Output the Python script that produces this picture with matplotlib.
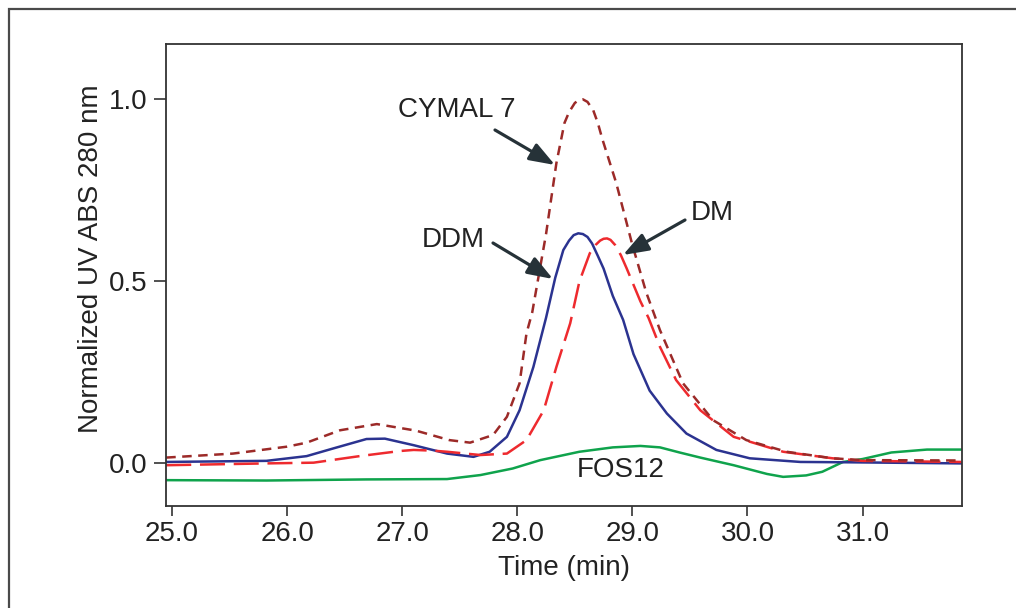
import matplotlib
matplotlib.use("Agg")
import matplotlib.pyplot as plt
from matplotlib.patches import Rectangle

plt.rcParams['font.family'] = ['Liberation Sans', 'DejaVu Sans']

# Elution profiles (time in min, normalized absorbance)
cymal_t = [24.95, 25.53, 26.0, 26.17, 26.46, 26.78, 27.12, 27.41, 27.59, 27.79,
           27.91, 28.02, 28.08, 28.13, 28.25, 28.34, 28.41, 28.45, 28.50, 28.53,
           28.57, 28.61, 28.66, 28.70, 28.74, 28.86, 29.0, 29.12, 29.24, 29.44,
           29.70, 29.99, 30.34, 30.74, 31.0, 31.86]
cymal_y = [0.016, 0.027, 0.046, 0.057, 0.091, 0.108, 0.090, 0.064, 0.057, 0.078,
           0.128, 0.22, 0.357, 0.415, 0.63, 0.825, 0.935, 0.965, 0.99, 0.997,
           1.0, 0.993, 0.97, 0.935, 0.89, 0.77, 0.60, 0.47, 0.366, 0.22,
           0.119, 0.064, 0.032, 0.014, 0.009, 0.008]

ddm_t = [24.95, 25.82, 26.17, 26.40, 26.69, 26.85, 27.10, 27.39, 27.62, 27.76,
         27.91, 28.02, 28.14, 28.25, 28.33, 28.40, 28.45, 28.49, 28.53, 28.57,
         28.61, 28.65, 28.70, 28.75, 28.83, 28.92, 29.01, 29.15, 29.30, 29.47,
         29.73, 30.02, 30.46, 30.89, 31.86]
ddm_y = [0.004, 0.007, 0.020, 0.041, 0.067, 0.068, 0.050, 0.027, 0.018, 0.032,
         0.073, 0.146, 0.265, 0.400, 0.510, 0.586, 0.612, 0.627, 0.632, 0.630,
         0.622, 0.604, 0.570, 0.535, 0.460, 0.394, 0.300, 0.200, 0.137, 0.082,
         0.037, 0.014, 0.004, 0.003, 0.0]

dm_t = [24.95, 25.82, 26.23, 26.63, 26.98, 27.10, 27.27, 27.39, 27.68, 27.91,
        28.08, 28.23, 28.34, 28.46, 28.54, 28.63, 28.68, 28.72, 28.75, 28.78,
        28.81, 28.85, 28.90, 28.95, 29.07, 29.14, 29.24, 29.38, 29.59, 29.88,
        30.31, 30.74, 31.0, 31.86]
dm_y = [-0.005, 0.0, 0.002, 0.020, 0.034, 0.037, 0.035, 0.032, 0.023, 0.027,
        0.064, 0.146, 0.265, 0.385, 0.500, 0.577, 0.600, 0.612, 0.617, 0.618,
        0.614, 0.600, 0.572, 0.536, 0.445, 0.400, 0.320, 0.229, 0.146, 0.073,
        0.032, 0.014, 0.007, 0.004]

fos_t = [24.95, 25.82, 26.69, 27.39, 27.68, 27.96, 28.20, 28.54, 28.83, 29.07,
         29.24, 29.41, 29.59, 29.88, 30.17, 30.31, 30.51, 30.65, 30.83, 31.0,
         31.25, 31.56, 31.86]
fos_y = [-0.046, -0.047, -0.044, -0.043, -0.032, -0.014, 0.009, 0.032, 0.044, 0.048,
         0.044, 0.030, 0.016, -0.005, -0.029, -0.037, -0.033, -0.023, 0.004, 0.012,
         0.030, 0.038, 0.038]

x_ticks = [25.0, 26.0, 27.0, 28.0, 29.0, 30.0, 31.0]
y_ticks = [0.0, 0.5, 1.0]

W, H = 1016, 608
fig = plt.figure(figsize=(W / 100, H / 100), dpi=100)

# outer frame around the figure panel
fig.patches.append(Rectangle((9 / W, -0.2), 1.2, 1.2 - 9 / H,
                             transform=fig.transFigure, fill=False,
                             edgecolor='#4a4a4a', lw=1.6))

ax = fig.add_axes([166 / W, 1 - 506 / H, (962 - 166) / W, (506 - 44) / H])

ax.plot(fos_t, fos_y, color='#0fa34c', lw=1.8)
ax.plot(ddm_t, ddm_y, color='#2b3390', lw=1.8)
ax.plot(dm_t, dm_y, color='#ee2a2e', lw=1.8, dashes=(10, 3.5))
ax.plot(cymal_t, cymal_y, color='#9c2a28', lw=1.8, dashes=(3.8, 2.6))

ax.set_xlim(24.948, 31.864)
ax.set_ylim(-0.117, 1.152)
ax.set_xticks(x_ticks)
ax.set_xticklabels([f"{v:.1f}" for v in x_ticks])
ax.set_yticks(y_ticks)
ax.set_yticklabels([f"{v:.1f}" for v in y_ticks])

for s in ax.spines.values():
    s.set_color('#333333')
    s.set_linewidth(1.3)

FS = 20
ax.tick_params(axis='x', direction='out', length=7.5, width=1.2, colors='#333333',
               labelcolor='#222222', labelsize=FS, pad=3)
ax.tick_params(axis='y', direction='out', length=8.5, width=1.2, colors='#333333',
               labelcolor='#222222', labelsize=FS, pad=5)

ax.set_xlabel('Time (min)', fontsize=FS, color='#222222', labelpad=6)
fig.text(91 / W, 1 - 259 / H, 'Normalized UV ABS 280 nm', rotation=90,
         ha='center', va='center', fontsize=FS, color='#222222')

arrow_kw = dict(arrowstyle='-|>,head_length=0.55,head_width=0.2', color='#263238',
                lw=2.3, mutation_scale=28, shrinkA=0, shrinkB=0)

def px(xp, yp):
    return (xp / W, 1 - yp / H)

ax.annotate('', xy=px(555, 165), xytext=px(495, 130),
            xycoords='figure fraction', textcoords='figure fraction',
            arrowprops=arrow_kw)
ax.annotate('', xy=px(553, 279), xytext=px(493, 243),
            xycoords='figure fraction', textcoords='figure fraction',
            arrowprops=arrow_kw)
ax.annotate('', xy=px(623, 255), xytext=px(685, 220),
            xycoords='figure fraction', textcoords='figure fraction',
            arrowprops=arrow_kw)

fig.text(*px(457, 110), 'CYMAL 7', ha='center', va='center', fontsize=FS, color='#222222')
fig.text(*px(453, 240), 'DDM', ha='center', va='center', fontsize=FS, color='#222222')
fig.text(*px(712, 213), 'DM', ha='center', va='center', fontsize=FS, color='#222222')
fig.text(*px(621, 470), 'FOS12', ha='center', va='center', fontsize=FS, color='#222222')

fig.savefig('out.png', dpi=100)
